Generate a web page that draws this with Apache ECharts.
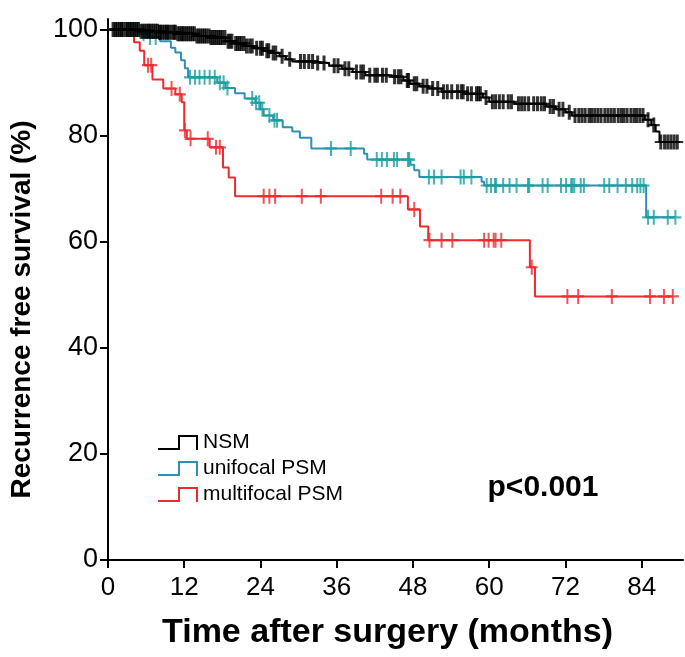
<!DOCTYPE html>
<html><head><meta charset="utf-8">
<script src="https://cdn.jsdelivr.net/npm/echarts@6/dist/echarts.min.js"></script>
<style>html,body{margin:0;padding:0;background:#fff}#c{width:685px;height:657px}</style>
</head><body><div id="c"></div>
<script>
// ---- data (months, survival %) ----
const xTicks = [0, 12, 24, 36, 48, 60, 72, 84];
const yTicks = [0, 20, 40, 60, 80, 100];
const seriesNames = ['NSM', 'unifocal PSM', 'multifocal PSM'];

const nsmSteps = [[0,100],[5,99.7],[8,99.5],[11,99.2],[14,98.8],[16,98.5],[18.5,97.8],[20,97.4],[21.5,96.9],[23,96.5],[24.5,96.0],[25.5,95.6],[27,95.0],[28,94.4],[29,94.0],[32.5,93.7],[34.8,93.2],[36.8,92.6],[38.5,92.0],[40.5,91.4],[44,91.1],[46.5,90.4],[47.5,89.8],[49,89.3],[50.5,88.9],[52.5,88.3],[56,87.9],[59,87.2],[60,86.4],[64,86.0],[69,85.5],[70.5,85.0],[72,84.4],[73,83.8],[84.5,83.0],[85.5,82.0],[86.2,80.8],[86.8,78.8]];
const nsmEnd = 89.6;
const nsmCensor = [0.8,1.2,1.5,1.8,2.1,2.4,2.8,3.1,3.4,3.6,3.9,4.2,4.5,4.8,5.2,5.5,5.8,6.1,6.4,6.6,6.9,7.2,7.5,7.8,8.1,8.3,8.6,8.9,9.2,9.4,9.7,10.1,10.4,10.6,11.0,11.3,11.6,11.8,12.1,12.4,12.7,13.0,13.3,13.6,14.0,14.3,14.6,14.9,15.2,15.5,15.9,16.2,16.5,16.8,17.1,17.4,17.7,18.0,18.4,18.9,19.2,19.5,20.1,20.4,20.7,21.0,21.4,21.8,22.3,22.7,23.4,24.0,24.3,25.0,25.3,26.0,26.4,27.4,28.6,30.3,30.9,31.6,32.2,33.0,34.0,35.6,36.2,37.3,37.9,39.1,39.8,40.2,41.2,42.0,42.4,43.2,43.8,45.1,45.7,46.1,47.1,47.3,48.2,48.6,49.6,50.2,51.1,51.9,52.8,53.4,54.1,55.0,55.6,55.9,56.6,57.2,58.0,58.3,58.6,59.5,60.5,61.0,61.6,62.2,63.0,63.5,64.6,65.1,65.6,66.2,67.0,67.6,68.2,68.7,69.6,70.1,71.0,71.6,72.6,73.5,74.1,74.6,75.1,75.7,76.1,76.6,77.1,77.6,78.2,78.7,79.2,79.7,80.3,80.8,81.2,81.7,82.3,82.8,83.2,83.7,84.2,85.0,85.9,87.0,87.6,88.1,88.6,89.1,89.6];

const uniSteps = [[0,100],[5.2,99.2],[6.2,98.5],[8.2,97.8],[9.9,96.6],[10.6,95.7],[11.5,94.2],[12.1,92.7],[12.6,91.0],[17.2,90.0],[18.5,89.0],[20.0,88.0],[21.5,87.0],[23.2,86.2],[24.0,85.0],[24.5,83.8],[26.0,82.9],[27.5,81.6],[29.0,80.8],[30.2,79.6],[32.0,77.6],[40.3,76.6],[40.8,75.5],[47.6,74.5],[48.2,73.5],[49.0,72.2],[58.8,71.3],[59.2,70.6],[84.7,64.6]];
const uniEnd = 89.3;
const uniCensor = [1.2,2.2,3.0,4.0,4.6,5.6,6.6,7.5,12.9,13.7,14.4,15.2,16.0,16.8,17.6,18.2,18.8,22.7,23.3,23.8,24.3,25.4,26.2,26.6,35.1,38.2,42.3,43.1,43.9,45.0,45.5,47.2,47.4,50.5,51.3,52.5,55.5,56.0,57.2,59.6,60.3,60.9,61.1,62.2,63.2,64.3,66.1,66.3,68.4,69.2,71.3,72.1,72.9,73.1,73.4,74.4,74.9,78.1,78.9,80.2,81.5,82.5,83.3,83.8,84.3,85.0,85.9,88.1,89.3];

const multiSteps = [[0,100],[4.1,97.6],[5.0,96.0],[5.7,93.3],[7.0,90.6],[8.7,88.9],[10.6,87.8],[11.6,86.3],[12.0,81.0],[12.4,79.4],[16.0,77.8],[18.1,74.0],[19.0,72.1],[20.0,68.6],[47.2,66.1],[49.1,62.9],[50.4,60.3],[66.4,55.2],[67.2,49.7]];
const multiEnd = 88.9;
const multiCensor = [1.0,2.0,3.0,6.3,6.8,10.0,11.3,12.1,13.0,15.7,17.0,17.6,24.5,25.4,26.3,30.5,33.5,43.0,44.8,46.0,48.2,50.6,52.5,54.2,59.2,59.9,60.7,61.0,61.9,66.7,72.3,74.0,79.3,85.3,87.5,88.9];

// ---- helpers ----
function survivalAt(steps, t) {
  let s = steps[0][1];
  for (const p of steps) { if (p[0] <= t) s = p[1]; else break; }
  return s;
}
function lineData(steps, end) { return steps.concat([[end, steps[steps.length - 1][1]]]); }
function censorData(steps, times) { return times.map(t => [t, survivalAt(steps, t)]); }

const plus = 'path://M5,0H7V6H12V8H7V14H5V8H0V6H5Z';
const plusBold = 'path://M4.5,0H7.5V6H12V8H7.5V14H4.5V8H0V6H4.5Z';
const legendIcon = 'path://M0,13H20V0H40V15H38V2H22V15H0Z';
const cBlack = '#000000', cUniLine = '#2f8fb6', cUniMark = '#17a09e', cRed = '#ee2a2e';
const FONT = 'Liberation Sans, Arial, sans-serif';

function lineSeries(name, steps, end, color, z, w) {
  return { name, type: 'line', step: 'end', data: lineData(steps, end), showSymbol: false, symbol: 'none',
    lineStyle: { color, width: w }, itemStyle: { color }, z, animation: false };
}
function censorSeries(name, steps, times, color, z, sym, w, h) {
  return { name, type: 'scatter', data: censorData(steps, times), symbol: sym, symbolSize: [w, h],
    itemStyle: { color }, z, animation: false, silent: true };
}

const chart = echarts.init(document.getElementById('c'), null, { renderer: 'canvas' });
chart.setOption({
  backgroundColor: '#fff',
  animation: false,
  grid: { left: 105, right: 2, top: 19, bottom: 97 },
  xAxis: {
    type: 'value', min: 0, max: 90.5,
    name: 'Time after surgery (months)', nameLocation: 'middle', nameGap: 56,
    nameTextStyle: { fontFamily: FONT, fontWeight: 'bold', fontSize: 34, color: '#000', padding: [0, 16, 0, 0] },
    axisLine: { show: true, lineStyle: { color: '#000', width: 2 } },
    axisTick: { show: true, length: 8, lineStyle: { color: '#000', width: 2 }, customValues: xTicks },
    axisLabel: { customValues: xTicks, color: '#000', fontSize: 26, margin: 15, fontFamily: FONT },
    splitLine: { show: false }
  },
  yAxis: {
    type: 'value', min: 0, max: 102,
    name: 'Recurrence free survival (%)', nameLocation: 'middle', nameGap: 72, nameRotate: 90,
    nameTextStyle: { fontFamily: FONT, fontWeight: 'bold', fontSize: 28, color: '#000', padding: [0, 40, 0, 0] },
    axisLine: { show: true, lineStyle: { color: '#000', width: 2 } },
    axisTick: { show: true, length: 8, lineStyle: { color: '#000', width: 2 }, customValues: yTicks },
    axisLabel: { customValues: yTicks, color: '#000', fontSize: 27, margin: 10, fontFamily: FONT },
    splitLine: { show: false }
  },
  legend: {
    orient: 'vertical', left: 153, top: 427, itemWidth: 40, itemHeight: 16, itemGap: 5,
    data: [
      { name: seriesNames[0], icon: legendIcon, itemStyle: { color: cBlack } },
      { name: seriesNames[1], icon: legendIcon, itemStyle: { color: cUniLine } },
      { name: seriesNames[2], icon: legendIcon, itemStyle: { color: cRed } }
    ],
    textStyle: { fontSize: 21, lineHeight: 21, color: '#000', fontFamily: FONT, padding: [0, 0, 0, 0] },
    selectedMode: false
  },
  graphic: [{
    type: 'text', x: 543, y: 488,
    style: { text: 'p<0.001', font: 'bold 30px "Liberation Sans", Arial, sans-serif', fill: '#000', textAlign: 'center', textVerticalAlign: 'middle' }
  }],
  series: [
    lineSeries(seriesNames[2], multiSteps, multiEnd, cRed, 3, 2),
    lineSeries(seriesNames[1], uniSteps, uniEnd, cUniLine, 4, 2),
    lineSeries(seriesNames[0], nsmSteps, nsmEnd, cBlack, 5, 2),
    censorSeries('multifocal censored', multiSteps, multiCensor, cRed, 6, plus, 12, 15),
    censorSeries('unifocal censored', uniSteps, uniCensor, cUniMark, 7, plus, 12, 15),
    censorSeries('NSM censored', nsmSteps, nsmCensor, cBlack, 8, plusBold, 12, 15)
  ]
});
</script>
</body></html>
